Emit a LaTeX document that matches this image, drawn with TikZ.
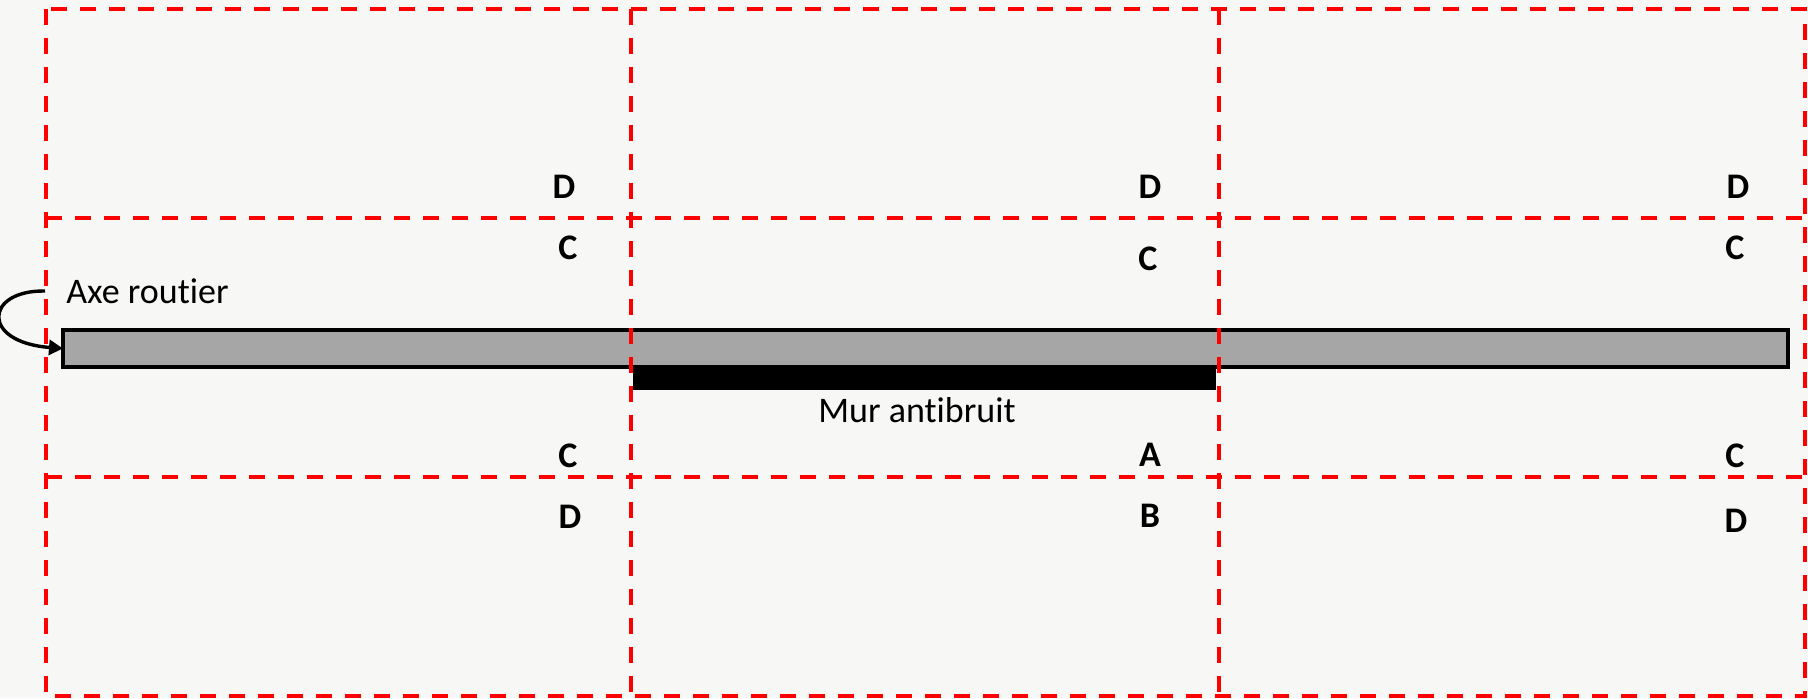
\documentclass[tikz,border=0pt]{standalone}
\usepackage{fontspec}
\setmainfont{Carlito}[Ligatures=NoCommon]
\usetikzlibrary{arrows.meta}
\definecolor{bgpaper}{RGB}{247,247,245}
\definecolor{roadgray}{RGB}{166,166,166}
\definecolor{zonered}{RGB}{255,0,0}
\tikzset{
  zoneline/.style={draw=zonered, line width=2pt, dash pattern=on 8pt off 6.5pt},
  roadbox/.style={draw=black, fill=roadgray, line width=2.2pt, inner sep=0pt, outer sep=0pt, anchor=north west},
  wallbox/.style={fill=black, inner sep=0pt, outer sep=0pt, anchor=north west},
  caption/.style={font=\fontsize{18}{22}\selectfont, inner sep=0pt},
  zonelabel/.style={font=\fontsize{18}{22}\selectfont\bfseries, inner sep=0pt, anchor=base},
  pointer/.style={draw=black, line width=1.7pt, -{Triangle[length=7pt,width=7.5pt]}}
}
\begin{document}
\begin{tikzpicture}[x=0.5pt, y=-0.5pt]
  % canvas
  \fill[bgpaper] (0,0) rectangle (1808,698);
  \useasboundingbox (0,0) rectangle (1808,698);

  % road and noise barrier
  \node[roadbox, minimum width=862.5pt, minimum height=18.5pt] (road) at (63,330) {};
  \node[wallbox, minimum width=291.5pt, minimum height=11.5pt] (wall) at (633,367) {};
  \node[caption, anchor=base] (wallname) at (917,422) {Mur antibruit};
  \node[caption, anchor=base west] (roadname) at (66,303) {Axe routier};
  \coordinate (roadstart) at (45,291);
  \draw[pointer] (roadstart) .. controls (-15,290) and (-20,342) .. (road.west);

  % zone grid
  \draw[zoneline] (46,8.5) rectangle (1805,696);
  \draw[zoneline] (631,8.5) -- (631,696);
  \draw[zoneline] (1219,8.5) -- (1219,696);
  \draw[zoneline] (46,218) -- (1805,218);
  \draw[zoneline] (46,477) -- (1805,477);

  % zone letters
  \node[zonelabel] (d1) at (564,198) {D};
  \node[zonelabel] (d2) at (1150,198) {D};
  \node[zonelabel] (d3) at (1738,198) {D};
  \node[zonelabel] (c1) at (568,259) {C};
  \node[zonelabel] (c2) at (1148,270) {C};
  \node[zonelabel] (c3) at (1735,259) {C};
  \node[zonelabel] (c4) at (568,467) {C};
  \node[zonelabel] (a1) at (1150,466) {A};
  \node[zonelabel] (c5) at (1735,467) {C};
  \node[zonelabel] (d4) at (570,528) {D};
  \node[zonelabel] (b1) at (1150,527) {B};
  \node[zonelabel] (d5) at (1736,532) {D};
\end{tikzpicture}
\end{document}
